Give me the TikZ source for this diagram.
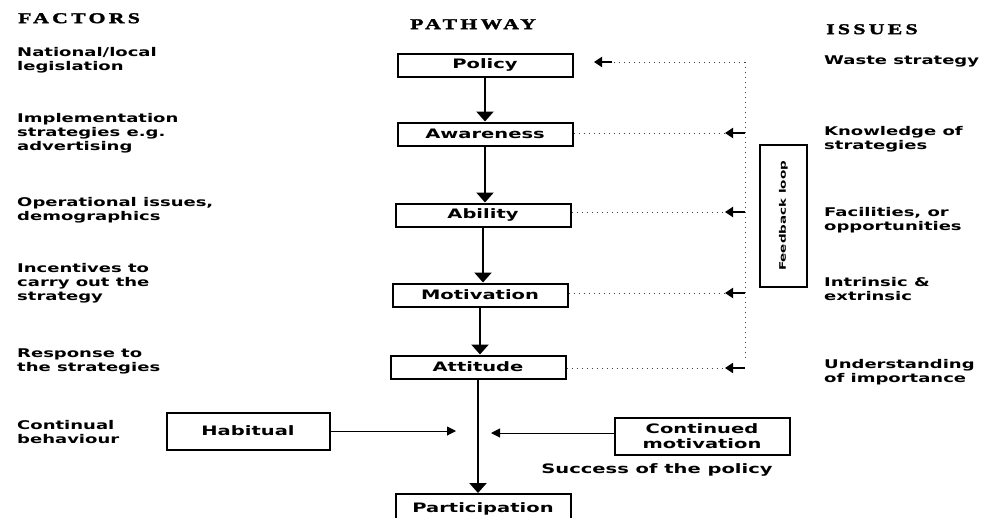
\documentclass[tikz,border=0pt]{standalone}
\usepackage{fontspec}
\setmainfont{DejaVu Sans}[FakeStretch=1.5]
\newfontfamily\headfont{Liberation Serif}[FakeStretch=1.45,LetterSpace=22,FakeBold=2]
\usetikzlibrary{arrows.meta}
\begin{document}
\begin{tikzpicture}[x=1pt,y=-1pt,
  every node/.style={inner sep=0pt},
  lbl/.style={font=\fontsize{12}{14}\selectfont\bfseries, align=left, anchor=north west},
  hdr/.style={font=\headfont\fontsize{15}{17}\selectfont\bfseries, anchor=north west},
  boxtext/.style={font=\fontsize{13}{15}\selectfont\bfseries},
  stage/.style={draw, line width=2pt, minimum width=175pt, minimum height=23pt, boxtext},
  flow/.style={line width=2.8pt, -{Triangle[length=10pt,width=17pt]}},
  dots/.style={line width=0.9pt, dash pattern=on 1pt off 4pt, black!75},
  side/.style={line width=1pt, -{Triangle[length=9pt,width=9pt]}},
  fbarrow/.style={line width=2.2pt, -{Triangle[length=8pt,width=10pt]}},
]
\useasboundingbox (0,0) rectangle (993,517);

% headings
\node[hdr] (hF) at (18,13) {FACTORS};
\node[hdr] (hP) at (410,19) {PATHWAY};
\node[hdr] (hI) at (826,24) {ISSUES};

% factors
\node[lbl] (f1) at (17,47) {National/local\\legislation};
\node[lbl] (f2) at (17,113) {Implementation\\strategies e.g.\\advertising};
\node[lbl] (f3) at (17,197) {Operational issues,\\demographics};
\node[lbl] (f4) at (17,263) {Incentives to\\carry out the\\strategy};
\node[lbl] (f5) at (17,349) {Response to\\the strategies};
\node[lbl] (f6) at (17,420) {Continual\\behaviour};

% issues
\node[lbl] (i1) at (824,56) {Waste strategy};
\node[lbl] (i2) at (824,126) {Knowledge of\\strategies};
\node[lbl] (i3) at (824,207) {Facilities, or\\opportunities};
\node[lbl] (i4) at (824,277) {Intrinsic \&\\extrinsic};
\node[lbl] (i5) at (824,359) {Understanding\\of importance};

% pathway
\node[stage] (pol) at (485,65) {Policy};
\node[stage] (awa) at (485,134) {Awareness};
\node[stage] (abi) at (483,215) {Ability};
\node[stage] (mot) at (480,295) {Motivation};
\node[stage] (att) at (478,367) {Attitude};
\node[stage, minimum height=30pt] (par) at (483,509) {Participation};

\draw[flow] (pol.south) -- (pol.south |- awa.north);
\draw[flow] (awa.south) -- (awa.south |- abi.north);
\draw[flow] (abi.south) -- (abi.south |- mot.north);
\draw[flow] (mot.south) -- (mot.south |- att.north);
\draw[flow] (att.south) -- (att.south |- par.north);

% habitual / continued motivation
\node[draw, line width=2pt, minimum width=163pt, minimum height=37pt, boxtext] (hab) at (248,431) {Habitual};
\node[draw, line width=2pt, minimum width=175pt, minimum height=37pt, boxtext, align=center] (cont) at (702,436) {Continued\\motivation};
\coordinate (jL) at (456,431);
\coordinate (jR) at (491,433);
\draw[side] (hab.east) -- (jL);
\draw[side] (cont.west |- jR) -- (jR);
\node[boxtext] (succ) at (657,470) {Success of the policy};

% feedback loop
\coordinate (fbTop) at (745,62);
\coordinate (fbBot) at (745,360);
\coordinate (pTail) at (612,62);
\coordinate (pTip) at (594,62);
\draw[dots] (fbTop) -- (fbBot);
\draw[dots] (fbTop) -- (pTail);
\draw[fbarrow] (pTail) -- (pTip);

\coordinate (fb1) at (745,133);
\coordinate (fb2) at (745,212);
\coordinate (fb3) at (745,293);
\coordinate (fb4) at (745,368);
\coordinate (t1) at (725,133);
\coordinate (t2) at (725,212);
\coordinate (t3) at (725,293);
\coordinate (t4) at (725,368);
\draw[dots] (awa.east |- fb1) -- (t1);
\draw[dots] (abi.east |- fb2) -- (t2);
\draw[dots] (mot.east |- fb3) -- (t3);
\draw[dots] (att.east |- fb4) -- (t4);
\draw[fbarrow] (fb1) -- (t1);
\draw[fbarrow] (fb2) -- (t2);
\draw[fbarrow] (fb3) -- (t3);
\draw[fbarrow] (fb4) -- (t4);

\node[draw, line width=1.6pt, rotate=90, minimum width=142pt, minimum height=47pt, font=\fontsize{9}{10}\selectfont\bfseries] (fbbox) at (783.5,216) {Feedback loop};
\end{tikzpicture}
\end{document}
